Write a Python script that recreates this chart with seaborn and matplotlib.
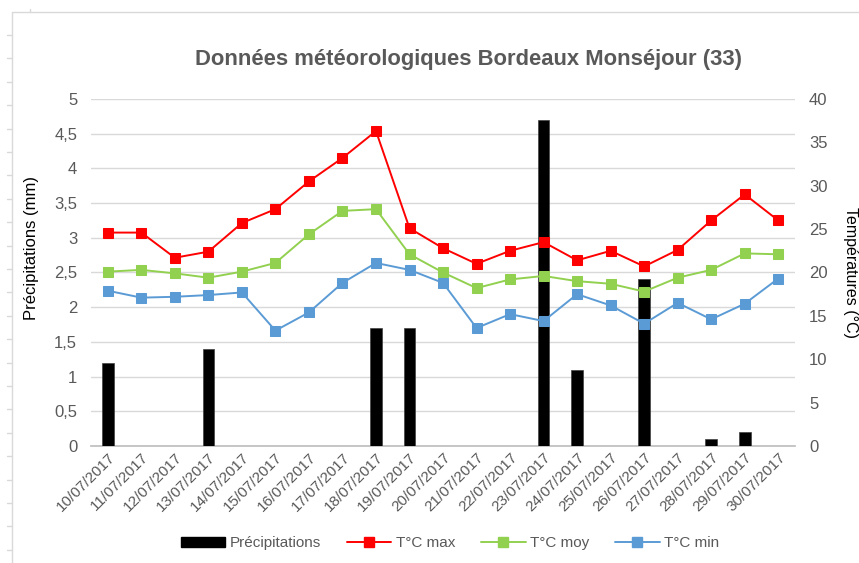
import numpy as np
import pandas as pd
import matplotlib
matplotlib.use('Agg')
import matplotlib.pyplot as plt
from matplotlib.patches import Patch
from matplotlib.lines import Line2D
import seaborn as sns

# ---- données ----
dates = ['10/07/2017', '11/07/2017', '12/07/2017', '13/07/2017', '14/07/2017',
         '15/07/2017', '16/07/2017', '17/07/2017', '18/07/2017', '19/07/2017',
         '20/07/2017', '21/07/2017', '22/07/2017', '23/07/2017', '24/07/2017',
         '25/07/2017', '26/07/2017', '27/07/2017', '28/07/2017', '29/07/2017',
         '30/07/2017']
precip = [1.2, 0, 0, 1.4, 0, 0, 0, 0, 1.7, 1.7, 0, 0, 0, 4.7, 1.1, 0, 2.4, 0, 0.1, 0.2, 0]
t_max = [24.6, 24.6, 21.7, 22.4, 25.7, 27.3, 30.5, 33.2, 36.3, 25.1, 22.8,
         21.0, 22.5, 23.5, 21.4, 22.5, 20.7, 22.6, 26.0, 29.0, 26.0]
t_moy = [20.1, 20.3, 19.9, 19.4, 20.1, 21.1, 24.4, 27.1, 27.3, 22.1, 20.0,
         18.2, 19.2, 19.6, 19.0, 18.7, 17.8, 19.4, 20.3, 22.2, 22.1]
t_min = [17.9, 17.1, 17.2, 17.4, 17.7, 13.3, 15.4, 18.8, 21.1, 20.3, 18.8,
         13.6, 15.2, 14.4, 17.5, 16.2, 14.1, 16.5, 14.6, 16.4, 19.3]

df = pd.DataFrame({'date': dates, 'precip': precip, 'max': t_max, 'moy': t_moy, 'min': t_min})
df['i'] = np.arange(len(df))

sns.set_theme(style='white')
plt.rcParams['font.family'] = ['Liberation Sans', 'DejaVu Sans']

grey = '#595959'
col_max, col_moy, col_min = '#FF0000', '#92D050', '#5B9BD5'

fig = plt.figure(figsize=(8.59, 5.63), dpi=100)
ax = fig.add_axes([0.106, 0.2078, 0.8195, 0.6164])

# barres précipitations
sns.barplot(data=df, x='date', y='precip', color='black', width=0.35,
            saturation=1, ax=ax, edgecolor='#404040', linewidth=0.5, zorder=3)
ax.set_ylim(0, 5)
ax.set_xlim(-0.5, len(df) - 0.5)
ax.set_yticks(np.arange(0, 5.01, 0.5))
ax.set_yticklabels([f'{v:g}'.replace('.', ',') for v in np.arange(0, 5.01, 0.5)])
ax.yaxis.grid(True, color='#D9D9D9', linewidth=1)
ax.set_axisbelow(True)

# températures sur l'axe de droite
ax2 = ax.twinx()
for col, c in [('max', col_max), ('moy', col_moy), ('min', col_min)]:
    sns.lineplot(data=df, x='i', y=col, color=c, marker='s', markersize=6.5,
                 markeredgecolor=c, linewidth=1.4, ax=ax2, zorder=4)
ax2.set_ylim(0, 40)
ax2.set_yticks(np.arange(0, 41, 5))
ax2.set_xlim(-0.5, len(df) - 0.5)

for a in (ax, ax2):
    for s in ('top', 'left', 'right'):
        a.spines[s].set_visible(False)
    a.spines['bottom'].set_color('#BFBFBF')
    a.tick_params(axis='y', length=0, labelsize=12, colors=grey, pad=10)

ax2.spines['bottom'].set_visible(False)

# graduations de l'axe des x entre les catégories
ax.set_xticks(np.arange(len(df)))
ax.set_xticklabels(dates, rotation=45, ha='right', rotation_mode='anchor',
                   fontsize=11, color=grey)
ax.tick_params(axis='x', which='major', length=0, pad=3)
ax.set_xticks(np.arange(-0.5, len(df)), minor=True)
ax.tick_params(axis='x', which='minor', length=5, color='#BFBFBF', width=1)
ax2.set_xlabel('')
ax.set_xlabel('')

ax.set_ylabel('Précipitations (mm)', fontsize=12, color='black', labelpad=11)
ax.yaxis.label.set_y(0.57)
ax2.set_ylabel('Températures (°C)', fontsize=11.5, color='black', rotation=270, labelpad=22)

fig.text(0.545, 0.895, 'Données météorologiques Bordeaux Monséjour (33)',
         ha='center', va='center', fontsize=15.8, fontweight='bold', color=grey)

handles = [Patch(facecolor='black', edgecolor='black'),
           Line2D([0], [0], color=col_max, marker='s', markersize=6.5, linewidth=1.4),
           Line2D([0], [0], color=col_moy, marker='s', markersize=6.5, linewidth=1.4),
           Line2D([0], [0], color=col_min, marker='s', markersize=6.5, linewidth=1.4)]
fig.legend(handles, ['Précipitations', 'T°C max', 'T°C moy', 'T°C min'],
           loc='center', bbox_to_anchor=(0.524, 0.035), ncol=4, frameon=False,
           fontsize=11, labelcolor=grey, handlelength=2.9, columnspacing=1.7,
           handletextpad=0.3)

# cadre du graphique (bord de la feuille de calcul)
fig.add_artist(Line2D([12 / 859, 12 / 859], [0, 1 - 12 / 563], color='#D9D9D9', linewidth=1))
fig.add_artist(Line2D([12 / 859, 1], [1 - 12 / 563, 1 - 12 / 563], color='#D9D9D9', linewidth=1))
fig.add_artist(Line2D([30 / 859, 30 / 859], [1 - 9 / 563, 1 - 12 / 563], color='#D9D9D9', linewidth=1))
for yy in np.arange(35, 563, 23.4):
    fig.add_artist(Line2D([7 / 859, 12 / 859], [1 - yy / 563, 1 - yy / 563],
                          color='#D9D9D9', linewidth=1))

fig.savefig('out.png', dpi=100)
